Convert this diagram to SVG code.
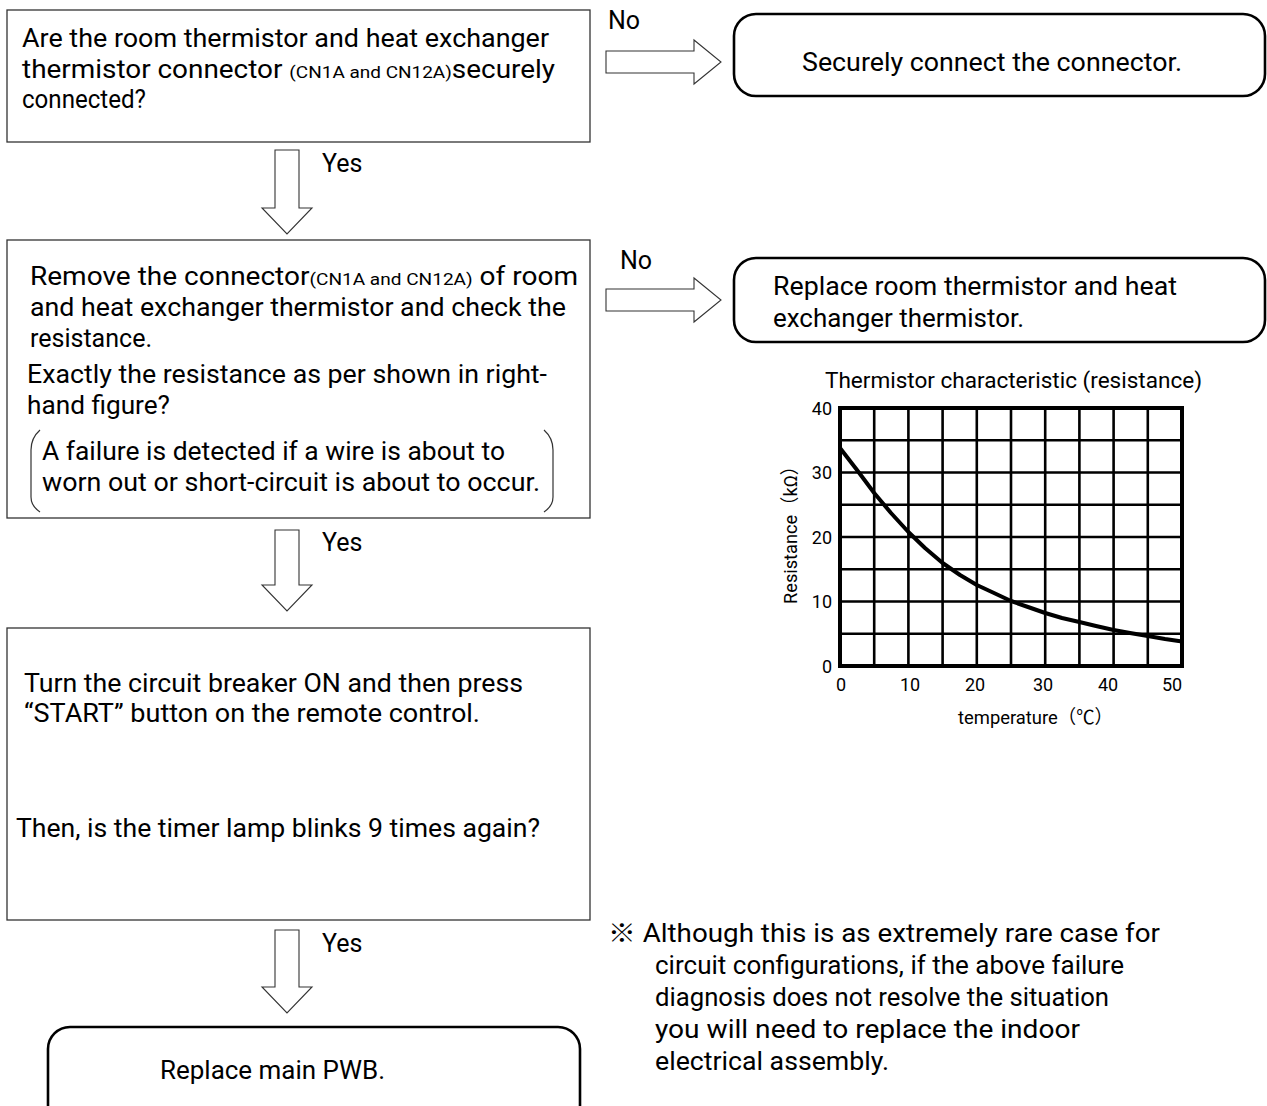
<svg xmlns="http://www.w3.org/2000/svg" width="1267" height="1106" viewBox="0 0 1267 1106">
<style>
text{font-family:Roboto,"Noto Sans CJK JP",sans-serif;fill:#000}
.t{font-size:25px}
.s{font-size:17px}
.box{fill:#fff;stroke:#333;stroke-width:1.3}
.rbox{fill:#fff;stroke:#000;stroke-width:2.6}
.arr{fill:#fff;stroke:#333;stroke-width:1.1;stroke-linejoin:miter}
.grid{stroke:#000;stroke-width:2.6;fill:none}
.tick{font-size:18px}
</style>
<rect width="1267" height="1106" fill="#fff"/>

<g id="connectors">
  <polygon class="arr" points="606,51 694,51 694,40 721,62 694,84 694,73 606,73"/>
  <text class="t" x="608" y="29">No</text>
  <polygon class="arr" points="606,289 694,289 694,278 721,300 694,322 694,311 606,311"/>
  <text class="t" x="620" y="269">No</text>
  <polygon class="arr" points="275,150 299,150 299,208 312,208 287,234 262,208 275,208"/>
  <text class="t" x="322" y="172">Yes</text>
  <polygon class="arr" points="275,530 299,530 299,585 312,585 287,611 262,585 275,585"/>
  <text class="t" x="322" y="551">Yes</text>
  <polygon class="arr" points="275,930 299,930 299,987 312,987 287,1013 262,987 275,987"/>
  <text class="t" x="322" y="952">Yes</text>
</g>

<g id="q1">
  <rect class="box" x="7" y="10" width="583" height="132"/>
  <text class="t" x="22" y="47" textLength="527" lengthAdjust="spacingAndGlyphs">Are the room thermistor and heat exchanger</text>
  <text class="t" x="22" y="78" textLength="533" lengthAdjust="spacingAndGlyphs">thermistor connector <tspan class="s">(CN1A and CN12A)</tspan>securely</text>
  <text class="t" x="22" y="108" textLength="124" lengthAdjust="spacingAndGlyphs">connected?</text>
</g>

<g id="a1">
  <rect class="rbox" x="734" y="14" width="531" height="82" rx="22"/>
  <text class="t" x="802" y="71" textLength="380" lengthAdjust="spacingAndGlyphs">Securely connect the connector.</text>
</g>

<g id="q2">
  <rect class="box" x="7" y="240" width="583" height="278"/>
  <text class="t" x="30" y="285" textLength="548" lengthAdjust="spacingAndGlyphs">Remove the connector<tspan class="s">(CN1A and CN12A)</tspan> of room</text>
  <text class="t" x="30" y="316" textLength="536" lengthAdjust="spacingAndGlyphs">and heat exchanger thermistor and check the</text>
  <text class="t" x="30" y="347" textLength="122" lengthAdjust="spacingAndGlyphs">resistance.</text>
  <text class="t" x="27" y="383" textLength="520" lengthAdjust="spacingAndGlyphs">Exactly the resistance as per shown in right-</text>
  <text class="t" x="27" y="414" textLength="143" lengthAdjust="spacingAndGlyphs">hand figure?</text>
  <text class="t" x="42" y="460" textLength="463" lengthAdjust="spacingAndGlyphs">A failure is detected if a wire is about to</text>
  <text class="t" x="42" y="491" textLength="498" lengthAdjust="spacingAndGlyphs">worn out or short-circuit is about to occur.</text>
  <path d="M40,430 Q31,438 31,450 L31,497 Q31,506 40,512" fill="none" stroke="#333" stroke-width="1.2"/>
  <path d="M544,430 Q553,438 553,450 L553,497 Q553,506 544,512" fill="none" stroke="#333" stroke-width="1.2"/>
</g>

<g id="a2">
  <rect class="rbox" x="734" y="258" width="531" height="84" rx="22"/>
  <text class="t" x="773" y="295" textLength="404" lengthAdjust="spacingAndGlyphs">Replace room thermistor and heat</text>
  <text class="t" x="773" y="327" textLength="251" lengthAdjust="spacingAndGlyphs">exchanger thermistor.</text>
</g>

<g id="chart">
  <text x="825" y="388" font-size="22" textLength="377" lengthAdjust="spacingAndGlyphs">Thermistor characteristic (resistance)</text>
  <g class="grid">
    <path d="M874.2,408V666M908.4,408V666M942.6,408V666M976.8,408V666M1011,408V666M1045.2,408V666M1079.4,408V666M1113.6,408V666M1147.8,408V666"/>
    <path d="M840,440.25H1182M840,472.5H1182M840,504.75H1182M840,537H1182M840,569.25H1182M840,601.5H1182M840,633.75H1182"/>
    <rect x="840" y="408" width="342" height="258" stroke-width="4"/>
  </g>
  <polyline points="840,448 857,470 874.2,493 891,513 908.4,532 925,548 942.6,563 960,575 976.8,585 994,593 1011,601 1028,607 1045.2,613 1062,618 1079.4,622 1096,626 1113.6,630 1130,633 1147.8,636 1165,639 1182,641.5" fill="none" stroke="#000" stroke-width="4" stroke-linejoin="round"/>
  <g class="tick" text-anchor="end">
    <text x="832" y="415">40</text>
    <text x="832" y="479">30</text>
    <text x="832" y="544">20</text>
    <text x="832" y="608">10</text>
    <text x="832" y="673">0</text>
  </g>
  <g class="tick" text-anchor="middle">
    <text x="841" y="691">0</text>
    <text x="910" y="691">10</text>
    <text x="975" y="691">20</text>
    <text x="1043" y="691">30</text>
    <text x="1108" y="691">40</text>
    <text x="1172" y="691">50</text>
  </g>
  <text x="958" y="724" font-size="19" textLength="155" lengthAdjust="spacingAndGlyphs">temperature（℃）</text>
  <text transform="translate(797,604) rotate(-90)" font-size="19" textLength="147" lengthAdjust="spacingAndGlyphs">Resistance（kΩ）</text>
</g>

<g id="q3">
  <rect class="box" x="7" y="628" width="583" height="292"/>
  <text class="t" x="24" y="692" textLength="499" lengthAdjust="spacingAndGlyphs">Turn the circuit breaker ON and then press</text>
  <text class="t" x="24" y="722" textLength="456" lengthAdjust="spacingAndGlyphs">“START” button on the remote control.</text>
  <text class="t" x="16" y="837" textLength="524" lengthAdjust="spacingAndGlyphs">Then, is the timer lamp blinks 9 times again?</text>
</g>

<g id="a3">
  <rect class="rbox" x="48" y="1027" width="532" height="100" rx="22"/>
  <text class="t" x="160" y="1079" textLength="225" lengthAdjust="spacingAndGlyphs">Replace main PWB.</text>
</g>

<g id="note">
  <text class="t" x="608" y="942" textLength="552" lengthAdjust="spacingAndGlyphs">※ Although this is as extremely rare case for</text>
  <text class="t" x="655" y="974" textLength="469" lengthAdjust="spacingAndGlyphs">circuit configurations, if the above failure</text>
  <text class="t" x="655" y="1006" textLength="454" lengthAdjust="spacingAndGlyphs">diagnosis does not resolve the situation</text>
  <text class="t" x="655" y="1038" textLength="425" lengthAdjust="spacingAndGlyphs">you will need to replace the indoor</text>
  <text class="t" x="655" y="1070" textLength="234" lengthAdjust="spacingAndGlyphs">electrical assembly.</text>
</g>
</svg>
